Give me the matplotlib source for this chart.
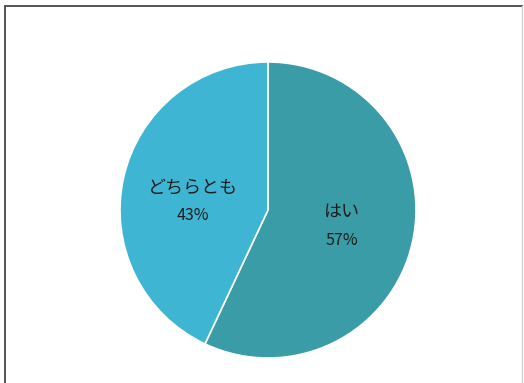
import matplotlib
matplotlib.use("Agg")
import matplotlib.pyplot as plt
from matplotlib.lines import Line2D

plt.rcParams["font.family"] = ["Noto Sans CJK JP", "DejaVu Sans"]

labels = ["はい", "どちらとも"]
values = [57, 43]
colors = ["#3a9ca7", "#3eb6d3"]

W, H = 524, 383
fig = plt.figure(figsize=(W / 100, H / 100), dpi=100)
fig.patch.set_facecolor("white")

# frame around the chart (no bottom edge)
def fx(px):
    return px / W

def fy(py):
    return 1 - py / H

fig.add_artist(Line2D([fx(5), fx(522)], [fy(6), fy(6)], color="#555555", lw=1.4))
fig.add_artist(Line2D([fx(5), fx(5)], [fy(6), 0], color="#555555", lw=1.4))
fig.add_artist(Line2D([fx(522), fx(522)], [fy(6), 0], color="#d0d0d0", lw=1.0))

# pie axes: center (268, 210), radius 148 px
r = 148
cx, cy = 268, 210
ax = fig.add_axes([fx(cx - r), fy(cy + r), 2 * r / W, 2 * r / H])

wedges, _ = ax.pie(
    values,
    colors=colors,
    startangle=90,
    counterclock=False,
    radius=1.0,
    wedgeprops=dict(edgecolor="white", linewidth=1.2),
)
ax.set_xlim(-1, 1)
ax.set_ylim(-1, 1)
ax.set_aspect("auto")
ax.axis("off")

# labels inside slices
label_pos = [(0.50, -0.015), (-0.51, 0.15)]
for (x, y), lab, v in zip(label_pos, labels, values):
    ax.text(x, y, lab, ha="center", va="center", fontsize=13, color="#1e1e1e")
    ax.text(x, y - 0.19, f"{v}%", ha="center", va="center", fontsize=11.5, color="#1e1e1e")

fig.savefig("out.png", dpi=100, facecolor="white")
